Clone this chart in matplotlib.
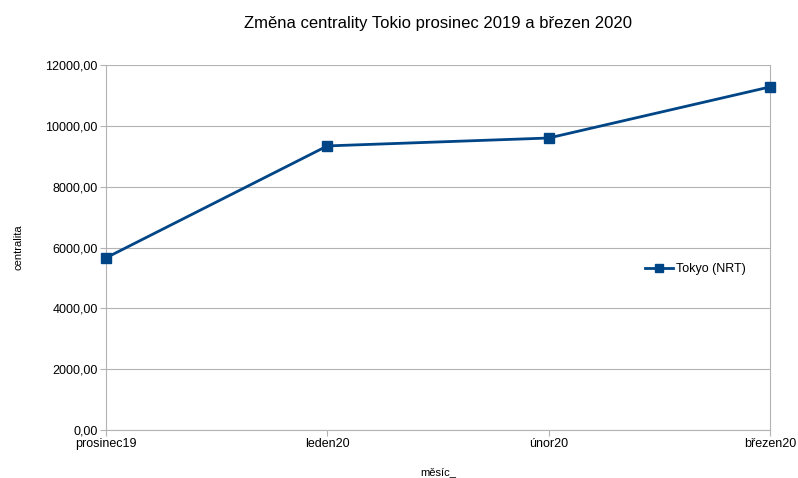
import matplotlib
matplotlib.use("Agg")
import matplotlib.pyplot as plt
from matplotlib.ticker import FuncFormatter

plt.rcParams["font.family"] = ["Liberation Sans", "DejaVu Sans"]

months = ["prosinec19", "leden20", "únor20", "březen20"]
centrality = [5660, 9340, 9600, 11280]
y_ticks = [0, 2000, 4000, 6000, 8000, 10000, 12000]

fig = plt.figure(figsize=(7.98, 4.78), dpi=100)
ax = fig.add_axes([0.1328, 0.1004, 0.8322, 0.7636])

x = list(range(len(months)))
ax.plot(x, centrality, color="#004586", linewidth=2, marker="s",
        markersize=7, label="Tokyo (NRT)", clip_on=False, zorder=3)

ax.set_xlim(0, len(months) - 1)
ax.set_ylim(0, 12000)
ax.set_xticks(x)
ax.set_xticklabels(months)
ax.set_yticks(y_ticks)
ax.yaxis.set_major_formatter(FuncFormatter(lambda v, _: f"{v:.2f}".replace(".", ",")))
ax.tick_params(labelsize=9, color="#b3b3b3", length=4, width=0.8, pad=2)

ax.grid(axis="y", color="#b3b3b3", linewidth=0.8)
ax.set_axisbelow(True)
for side in ("left", "right", "bottom"):
    ax.spines[side].set_color("#b3b3b3")
    ax.spines[side].set_linewidth(0.8)
ax.spines["top"].set_visible(False)

ax.set_title("Změna centrality Tokio prosinec 2019 a březen 2020",
             fontsize=12, pad=27)
ax.set_xlabel("měsíc_", fontsize=8, labelpad=12)
ax.set_ylabel("centralita", fontsize=8, labelpad=16)

ax.legend(loc="center left", bbox_to_anchor=(0.795, 0.44), frameon=False,
          fontsize=9, handlelength=2.2, handletextpad=0.3, markerscale=0.85)

fig.savefig("out.png", dpi=100)
